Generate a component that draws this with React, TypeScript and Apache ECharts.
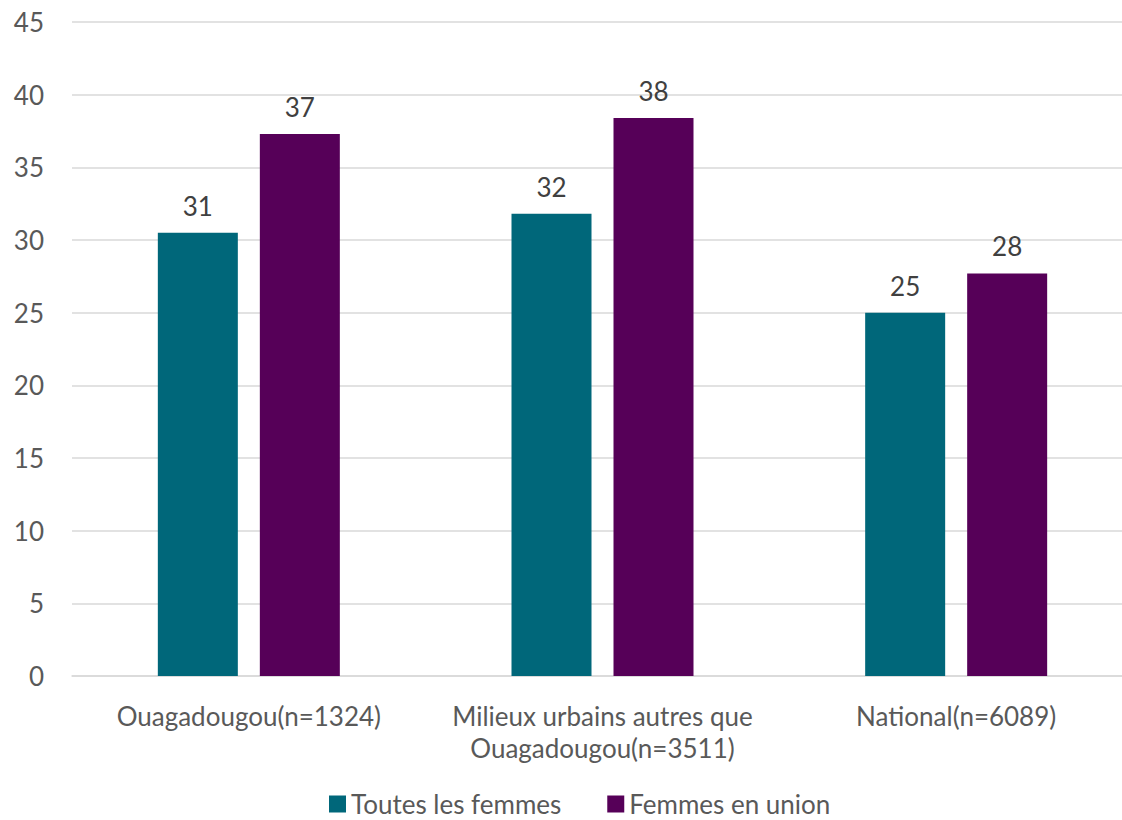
import React, { useEffect, useRef } from "react";
import * as echarts from "echarts";

const categories = [
  "Ouagadougou(n=1324)",
  "Milieux urbains autres que\nOuagadougou(n=3511)",
  "National(n=6089)",
];
const seriesNames = ["Toutes les femmes", "Femmes en union"];
const toutesValues = [30.5, 31.8, 25.0];
const unionValues = [37.3, 38.4, 27.7];
const colors = ["#00677A", "#560058"];
const FONT = "Lato, 'Open Sans', sans-serif";

export default function App() {
  const ref = useRef<HTMLDivElement>(null);
  useEffect(() => {
    const chart = echarts.init(ref.current!, undefined, { renderer: "svg" });
    const labelOpt = {
      show: true,
      position: "top",
      distance: 14,
      color: "#404040",
      fontSize: 26,
      fontFamily: FONT,
      formatter: (p: any) => String(Math.round(p.value)),
    };
    chart.setOption({
      animation: false,
      textStyle: { fontFamily: FONT },
      grid: { left: 72, right: 0, top: 22, bottom: 144, containLabel: false },
      legend: {
        bottom: -2,
        left: 324,
        itemWidth: 17,
        itemHeight: 17,
        itemGap: 46,
        icon: "rect",
        textStyle: { fontSize: 26, color: "#595959", fontFamily: FONT },
        data: seriesNames,
      },
      xAxis: {
        type: "category",
        data: categories,
        axisLine: { lineStyle: { color: "#D9D9D9", width: 1.5 } },
        axisTick: { show: false },
        axisLabel: {
          fontSize: 26,
          color: "#595959",
          fontFamily: FONT,
          margin: 24,
          lineHeight: 32,
          interval: 0,
        },
      },
      yAxis: {
        type: "value",
        min: 0,
        max: 45,
        interval: 5,
        axisLine: { show: false },
        axisTick: { show: false },
        splitLine: { lineStyle: { color: "#D9D9D9", width: 1.5 } },
        axisLabel: { fontSize: 26, color: "#595959", fontFamily: FONT, margin: 28 },
      },
      series: [
        {
          name: seriesNames[0],
          type: "bar",
          data: toutesValues,
          barWidth: 80,
          barGap: "27.5%",
          itemStyle: { color: colors[0] },
          label: labelOpt,
        },
        {
          name: seriesNames[1],
          type: "bar",
          data: unionValues,
          barWidth: 80,
          itemStyle: { color: colors[1] },
          label: labelOpt,
        },
      ],
    });
    return () => chart.dispose();
  }, []);
  return (
    <div
      style={{ position: "absolute", left: 0, top: 0, width: 1122, height: 820, overflow: "hidden" }}
    >
      <div ref={ref} style={{ width: 1133, height: 820 }} />
    </div>
  );
}
